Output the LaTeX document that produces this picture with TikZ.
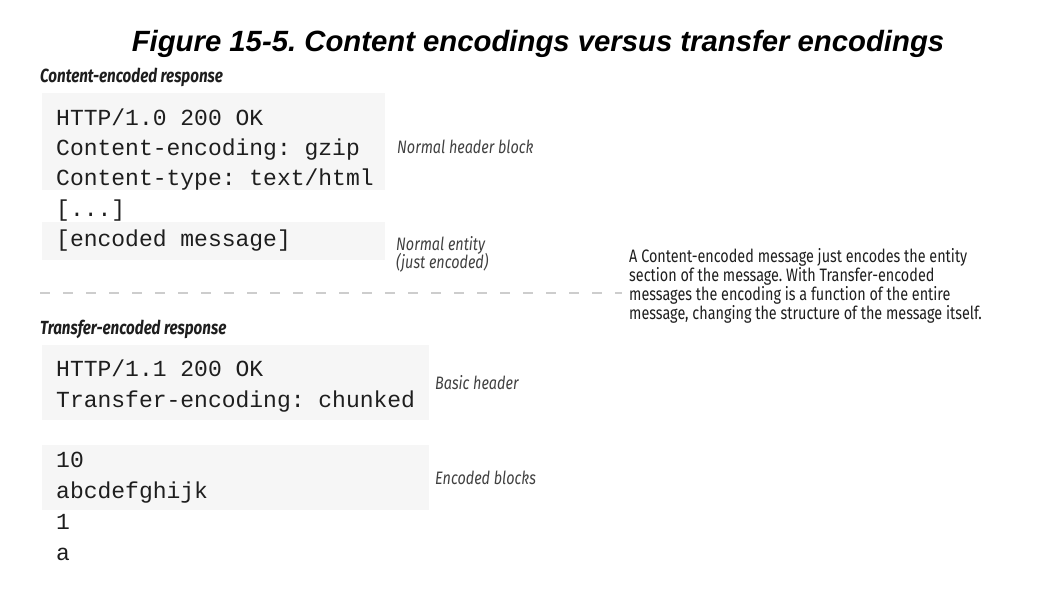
\documentclass[tikz,border=0pt]{standalone}
\usepackage{fontspec}
\setmainfont{Liberation Sans}
\newfontfamily\monofont{Liberation Mono}
\newfontfamily\condfont[FakeStretch=0.8]{Fira Sans}
\usepackage{tikz}
\frenchspacing
\definecolor{codebg}{RGB}{246,246,246}
\definecolor{inkgray}{RGB}{30,30,30}
\definecolor{rulegray}{RGB}{205,205,205}

\begin{document}
\begin{tikzpicture}[x=1pt,y=-1pt,
    codebox/.style={fill=codebg, inner sep=0pt, anchor=north west},
    codeline/.style={anchor=base west, inner sep=0pt, text=inkgray, font=\monofont\fontsize{23}{23}\selectfont},
    heading/.style={anchor=base west, inner sep=0pt, text=inkgray, font=\condfont\bfseries\itshape\fontsize{19}{19}\selectfont},
    note/.style={anchor=base west, inner sep=0pt, text=inkgray!85, font=\condfont\itshape\fontsize{18}{18}\selectfont},
    parline/.style={anchor=base west, inner sep=0pt, text=inkgray, font=\condfont\fontsize{18}{18}\selectfont}]
    \useasboundingbox (0,0) rectangle (1060,600);
    % title
    \node (title) [anchor=base, inner sep=0pt, font=\bfseries\itshape\fontsize{29.3}{29.3}\selectfont] at (538,51) {Figure 15-5. Content encodings versus transfer encodings};
    % content-encoded response
    \node (cehead) [heading] at (40,82) {Content-encoded response};
    \node (hdrbox) [codebox, minimum width=343pt, minimum height=97pt] at (42,93) {};
    \node (entbox) [codebox, minimum width=343pt, minimum height=38pt] at (42,222) {};
    \node (ce1) [codeline] at (56,125) {HTTP/1.0 200 OK}; \node (ce2) [codeline] at (56,155) {Content-encoding: gzip}; \node (ce3) [codeline] at (56,185) {Content-type: text/html}; \node (ce4) [codeline] at (56,216) {[...]}; \node (ce5) [codeline] at (56,246) {[encoded message]};
    \node (hdrnote) [note] at (397,153) {Normal header block};
    \node (entnote) [note] at (396,250) {Normal entity}; \node (entnote2) [note] at (396,268) {(just encoded)};
    % separator
    \coordinate (sepl) at (40,293); \coordinate (sepr) at (622,293);
    \draw[rulegray, line width=1.2pt, dash pattern=on 10pt off 13pt] (sepl) -- (sepr);
    % transfer-encoded response
    \node (tehead) [heading] at (40,334) {Transfer-encoded response};
    \node (basbox) [codebox, minimum width=387pt, minimum height=75pt] at (42,345) {};
    \node (blkbox) [codebox, minimum width=387pt, minimum height=65pt] at (42,445) {};
    \node (te1) [codeline] at (56,376) {HTTP/1.1 200 OK}; \node (te2) [codeline] at (56,407) {Transfer-encoding: chunked};
    \node (te3) [codeline] at (56,467) {10}; \node (te4) [codeline] at (56,498) {abcdefghijk}; \node (te5) [codeline] at (56,529) {1}; \node (te6) [codeline] at (56,560) {a};
    \node (basnote) [note] at (435,389) {Basic header};
    \node (blknote) [note] at (435,484) {Encoded blocks};
    % explanation
    \node (par1) [parline] at (629,262) {A Content-encoded message just encodes the entity};
    \node (par2) [parline] at (629,281) {section of the message. With Transfer-encoded};
    \node (par3) [parline] at (629,300) {messages the encoding is a function of the entire};
    \node (par4) [parline] at (629,319) {message, changing the structure of the message itself.};
\end{tikzpicture}
\end{document}
